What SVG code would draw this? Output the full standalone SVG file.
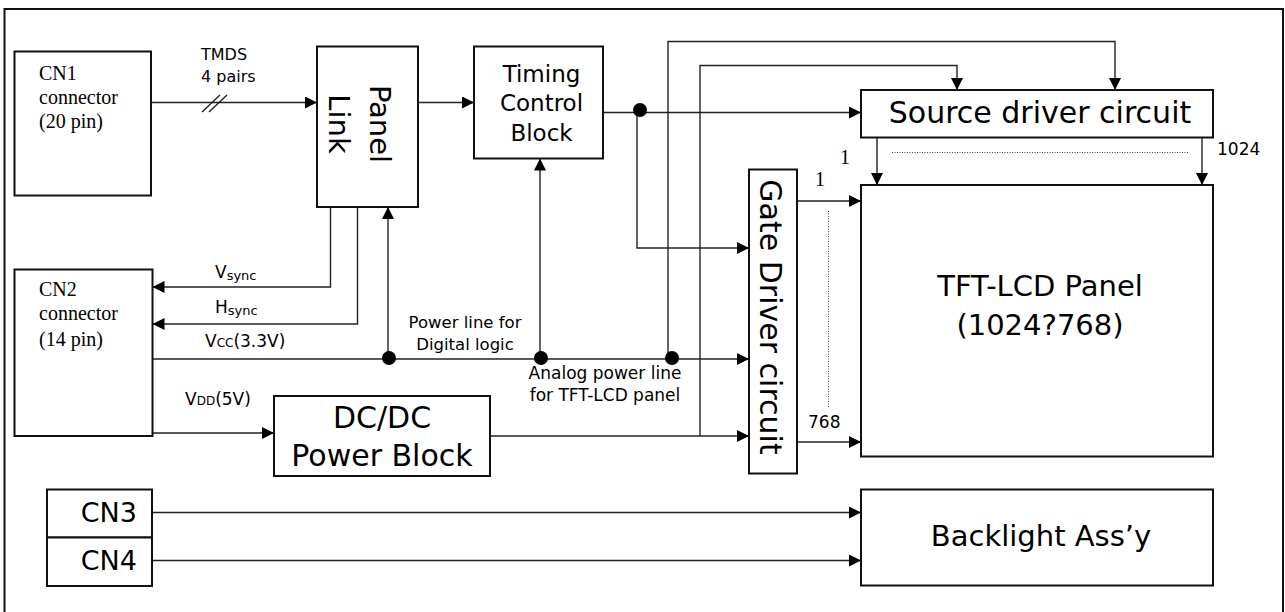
<svg xmlns="http://www.w3.org/2000/svg" width="1285" height="612" viewBox="0 0 1285 612">
<style>
.box{fill:#fff;stroke:#111;stroke-width:2}
.ln{fill:none;stroke:#222;stroke-width:1.4}
.arr{marker-end:url(#ah)}
.dot{fill:#000}
.dash{fill:none;stroke:#444;stroke-width:1;stroke-dasharray:1 1.5}
.s{font-family:"DejaVu Sans","Liberation Sans",sans-serif;fill:#000}
.t{font-family:"Liberation Serif","Times New Roman",serif;fill:#000}
</style>
<defs>
<marker id="ah" viewBox="0 0 12 12" refX="12" refY="6" markerWidth="12" markerHeight="12" markerUnits="userSpaceOnUse" orient="auto">
<path d="M0,0 L12,6 L0,12 z" fill="#000"/>
</marker>
</defs>
<rect x="4.5" y="9" width="1278.5" height="640" fill="#fff" stroke="#111" stroke-width="2"/>

<g id="connectors">
<path class="ln arr" d="M151,102.5 H317"/>
<path class="ln" d="M202,112 L220,95 M209,112 L227,95"/>
<path class="ln arr" d="M418,102.5 H474"/>
<path class="ln arr" d="M603,112.5 H861"/>
<path class="ln arr" d="M637,112 V248 H749"/>
<path class="ln arr" d="M668,359 V41.5 H1115 V90"/>
<path class="ln arr" d="M700,436 V65.5 H957 V90"/>
<path class="ln arr" d="M877,137.5 V185"/>
<path class="ln arr" d="M1202,137.5 V185"/>
<path class="dash" d="M892,152.5 H1188"/>
<path class="ln arr" d="M797,201 H861"/>
<path class="ln arr" d="M797,442 H861"/>
<path class="dash" d="M828.5,211 V407"/>
<path class="ln arr" d="M330.5,207 V287 H152.5"/>
<path class="ln arr" d="M357.5,207 V324 H152.5"/>
<path class="ln arr" d="M152.5,359 H749"/>
<path class="ln arr" d="M388,359 V207"/>
<path class="ln arr" d="M540,359 V158.5"/>
<path class="ln arr" d="M152.5,433 H274"/>
<path class="ln arr" d="M490,436 H749"/>
<path class="ln arr" d="M152,512.5 H861"/>
<path class="ln arr" d="M152,560.5 H861"/>
<circle class="dot" cx="640" cy="110" r="7"/>
<circle class="dot" cx="389" cy="358" r="7"/>
<circle class="dot" cx="541" cy="358" r="7"/>
<circle class="dot" cx="672" cy="358" r="7"/>
<text class="s" x="201" y="60" font-size="16">TMDS</text>
<text class="s" x="201" y="82" font-size="16">4 pairs</text>
<text class="s" x="215" y="278" font-size="17">V<tspan font-size="13" dy="2">sync</tspan></text>
<text class="s" x="215" y="313" font-size="17">H<tspan font-size="13" dy="2">sync</tspan></text>
<text class="s" x="205" y="347" font-size="17">V<tspan font-size="12">CC</tspan>(3.3V)</text>
<text class="s" x="185" y="405" font-size="17">V<tspan font-size="12">DD</tspan>(5V)</text>
<text class="s" x="465" y="328" font-size="16.5" text-anchor="middle">Power line for</text>
<text class="s" x="465" y="350" font-size="16.5" text-anchor="middle">Digital logic</text>
<text class="s" x="605" y="379" font-size="17" text-anchor="middle">Analog power line</text>
<text class="s" x="605" y="401" font-size="17" text-anchor="middle">for TFT-LCD panel</text>
<text class="t" x="840" y="164" font-size="20">1</text>
<text class="t" x="815" y="186" font-size="20">1</text>
<text class="s" x="1217" y="155" font-size="17">1024</text>
<text class="s" x="808" y="428" font-size="17">768</text>
</g>

<g id="cn1">
<rect class="box" x="14.5" y="51.5" width="136.5" height="144"/>
<text class="t" x="39" y="80" font-size="20">CN1</text>
<text class="t" x="39" y="104" font-size="20">connector</text>
<text class="t" x="39" y="128" font-size="20">(20 pin)</text>
</g>

<g id="panel-link">
<rect class="box" x="317" y="46.5" width="101" height="160.5"/>
<text class="s" font-size="29" text-anchor="middle" transform="translate(370,124) rotate(90)">Panel</text>
<text class="s" font-size="29" text-anchor="middle" transform="translate(329,124) rotate(90)">Link</text>
</g>

<g id="timing">
<rect class="box" x="474" y="46.5" width="129" height="112"/>
<text class="s" x="541.5" y="82" font-size="23" text-anchor="middle">Timing</text>
<text class="s" x="541.5" y="111" font-size="23" text-anchor="middle">Control</text>
<text class="s" x="541.5" y="140.5" font-size="23" text-anchor="middle">Block</text>
</g>

<g id="source-driver">
<rect class="box" x="861" y="90" width="352" height="47.5"/>
<text class="s" x="1040" y="123" font-size="30" text-anchor="middle">Source driver circuit</text>
</g>

<g id="gate-driver">
<rect class="box" x="749" y="169.5" width="48" height="304"/>
<text class="s" font-size="30" text-anchor="middle" transform="translate(760,317) rotate(90)">Gate Driver circuit</text>
</g>

<g id="tft-panel">
<rect class="box" x="861" y="185" width="352" height="271.5"/>
<text class="s" x="1040" y="296" font-size="29" text-anchor="middle">TFT-LCD Panel</text>
<text class="s" x="1040" y="335" font-size="29" text-anchor="middle">(1024?768)</text>
</g>

<g id="cn2">
<rect class="box" x="14.5" y="269.5" width="138" height="166.5"/>
<text class="t" x="39" y="296" font-size="20">CN2</text>
<text class="t" x="39" y="320" font-size="20">connector</text>
<text class="t" x="39" y="346" font-size="20">(14 pin)</text>
</g>

<g id="dcdc">
<rect class="box" x="274" y="396" width="216" height="80"/>
<text class="s" x="382" y="428" font-size="30" text-anchor="middle">DC/DC</text>
<text class="s" x="382" y="466" font-size="30" text-anchor="middle">Power Block</text>
</g>

<g id="cn3">
<rect class="box" x="47" y="489.5" width="105" height="48"/>
<text class="s" x="137" y="522" font-size="27" text-anchor="end">CN3</text>
</g>

<g id="cn4">
<rect class="box" x="47" y="537.5" width="105" height="48.5"/>
<text class="s" x="137" y="570" font-size="27" text-anchor="end">CN4</text>
</g>

<g id="backlight">
<rect class="box" x="861" y="489.5" width="352" height="96"/>
<text class="s" x="1041" y="546" font-size="29" text-anchor="middle">Backlight Ass’y</text>
</g>
</svg>
